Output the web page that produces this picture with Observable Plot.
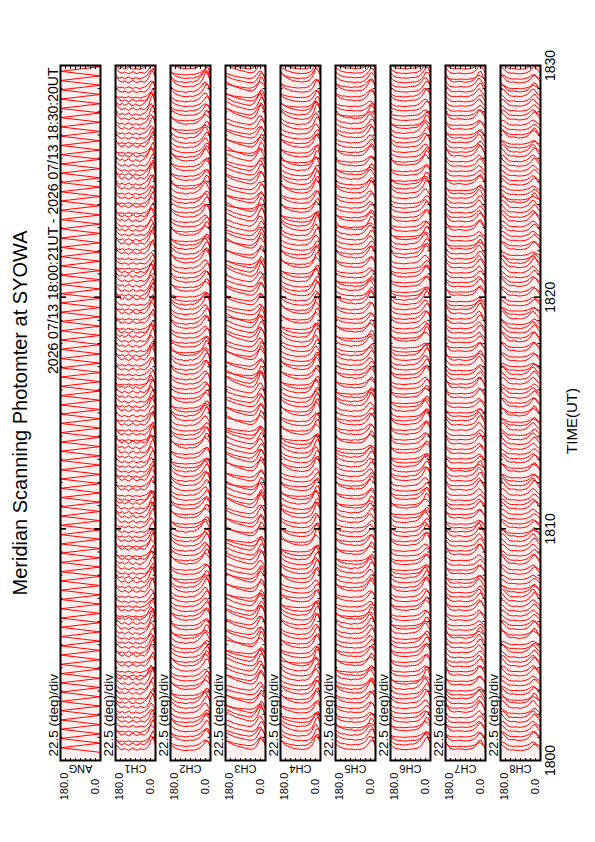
<!DOCTYPE html>
<html><head><meta charset="utf-8">
<script src="https://cdn.jsdelivr.net/npm/d3@7"></script>
<script src="https://cdn.jsdelivr.net/npm/@observablehq/plot@0.6"></script>
<style>
html,body{margin:0;padding:0;background:#fff;width:595px;height:842px;overflow:hidden}
#rot{position:absolute;left:0;top:0;width:842px;height:595px;transform-origin:0 0;transform:translate(0,842px) rotate(-90deg)}
</style></head><body><div id="rot"></div>
<script>
// ---------- data ----------
const channels = ["ANG","CH1","CH2","CH3","CH4","CH5","CH6","CH7","CH8"];
const titleText = "Meridian Scanning Photomter at SYOWA";
const rangeText = "2026 07/13 18:00:21UT - 2026 07/13 18:30:20UT";
const scaleText = "22.5 (deg)/div";
const axisTitle = "TIME(UT)";
const timeTickSec = [0, 600, 1200, 1800];          // seconds after 18:00 UT
const timeTickLabels = ["1800", "1810", "1820", "1830"];
const angleLabels = ["180.0", "0.0"];
const angleSteps = [180,170,160,150,140,130,120,110,100,90,80,70,60,50,40,30,20,10,0];
const angTurnDeg = [0, 180];
// scan turn-around times, seconds after 18:00:00 UT
const turnSec = [21,33,45,57,69,81,93,105,117,129,141,153,165,177,189,201,213,225,237,249,
261,273,285,297,309,321,333,345,357,369,381,393,405,417,429,441,453,465,477,489,
501,513,525,537,549,561,573,585,597,609,621,633,645,657,669,681,693,705,717,729,
741,753,765,777,789,801,813,825,837,849,861,873,885,897,909,921,933,945,957,969,
981,993,1005,1017,1029,1041,1053,1065,1077,1089,1101,1113,1125,1137,1149,1161,1173,1185,1197,1209,
1221,1233,1245,1257,1269,1281,1293,1305,1317,1329,1341,1353,1365,1377,1389,1401,1413,1425,1437,1449,
1461,1473,1485,1497,1509,1521,1533,1545,1557,1569,1581,1593,1605,1617,1629,1641,1653,1665,1677,1689,
1701,1713,1725,1737,1749,1761,1773,1785,1797,1809,1821];
// intensity profiles (arbitrary kR) along the meridian, 180 -> 0 deg in 10 deg steps
const profilesA = {
  CH1:[3.0,2.0,1.3,1.0,1.5,1.1,0.8,1.3,1.6,1.0,0.9,1.4,1.2,1.0,1.6,2.6,4.6,5.8,2.6],
  CH2:[3.4,2.6,1.9,1.5,1.2,1.0,0.9,0.8,0.9,1.0,0.9,1.1,1.4,1.8,2.5,3.6,5.0,4.8,2.2],
  CH3:[4.0,3.6,3.2,2.8,2.5,2.2,2.0,1.8,1.6,1.4,1.2,1.1,1.1,1.4,2.2,3.8,5.4,4.6,2.0],
  CH4:[3.8,3.0,2.4,2.0,1.7,1.4,1.2,1.1,1.0,0.9,0.9,1.0,1.1,1.4,2.0,3.2,5.2,5.6,3.2],
  CH5:[3.2,2.6,2.0,1.7,1.5,1.3,1.2,1.3,1.1,1.0,1.2,1.1,1.3,1.7,2.4,3.5,4.8,4.4,2.2],
  CH6:[2.9,2.0,1.5,1.2,1.1,1.0,1.0,0.9,1.0,1.1,1.2,1.2,1.4,1.8,2.5,3.6,5.0,4.8,2.8],
  CH7:[3.4,2.2,1.3,1.0,0.9,1.0,1.1,1.0,0.9,0.8,0.9,1.0,1.2,1.6,2.4,3.6,3.8,2.4,1.0],
  CH8:[3.6,3.0,2.2,1.4,1.1,1.0,1.1,0.9,0.8,0.8,0.9,1.0,1.3,1.8,2.6,3.6,3.2,2.0,1.1]
};
const profilesB = {
  CH1:[2.6,1.6,1.2,1.7,1.0,1.3,1.8,1.1,0.9,1.5,1.1,0.8,1.3,1.7,2.4,4.0,5.4,4.2,1.8],
  CH2:[3.0,2.3,1.6,1.3,1.1,1.2,0.9,0.8,1.0,1.2,1.0,1.3,1.7,2.3,3.2,4.4,4.6,3.2,1.6],
  CH3:[3.6,3.3,3.0,2.6,2.2,2.1,1.8,1.6,1.4,1.3,1.1,1.0,1.3,1.9,3.0,4.6,4.8,3.2,1.5],
  CH4:[3.4,2.7,2.1,1.8,1.5,1.3,1.2,1.0,0.9,1.0,1.1,1.0,1.3,1.8,2.8,4.4,5.4,4.2,2.2],
  CH5:[3.0,2.3,1.8,1.5,1.6,1.3,1.2,1.0,1.2,1.3,1.1,1.4,1.6,2.1,3.0,4.2,4.4,3.2,1.6],
  CH6:[2.6,1.8,1.3,1.1,1.2,1.0,0.9,1.0,1.1,1.3,1.2,1.4,1.7,2.3,3.2,4.4,4.6,3.4,2.0],
  CH7:[3.0,1.9,1.2,1.0,1.0,0.9,1.0,1.1,1.0,0.9,1.0,1.2,1.5,2.0,3.0,4.0,3.2,1.8,0.9],
  CH8:[3.0,3.4,2.8,1.8,1.2,1.0,0.9,1.0,0.9,0.8,1.0,1.2,1.6,2.2,3.2,3.4,2.4,1.6,1.0]
};
// per-scan code: digit = profile A, letter = profile B; value = brightness level
const traceCodes = {
  CH1:"56a7b45cd6e4f57g3a6b8c5d4e67fa5b3c6d7e45f6a8b5c4d67e5f3a6b7c4d5e6f8a5b6c47d5e6fa3b5c7d4e6f5a6b7c48d5e6f5a3b6c7d5e4f6a7b5c6d8e45f6a7b4c5d6e7f5a4b6c5d7e",
  CH2:"4b6c57d3e6f5a7b4c68d5e3f7a5b6c4d5e7f6a4b8c5d6e3f5a7b6c4d57e6f4a5b8c6d3e7f5a6b4c5d7e6f8a5b4c6d5e7f3a6b5c4d8e6f5a7b4c6d5e3f7a5b6c8d4e5f6a7b5c4d6e8f5a6b",
  CH3:"6c5d4e7f5a6b3c7d5e6f4a8b5c6d7e4f5a6b7c3d6e5f4a7b6c5d8e4f6a5b7c6d4e5f3a7b6c5d4e8f6a5b7c4d6e5f7a3b5c6d4e7f5a6b8c5d4e6f7a5b4c6d5e3f7a6b5c4d8e6f5a7b4c6d",
  CH4:"7d5e6f4a5b7c6d3e5f8a4b6c5d7e6f4a5b3c7d6e5f4a8b6c5d7e4f6a5b3c7d5e6f4a7b5c8d6e4f5a6b7c3d5e6f4a7b8c5d6e4f5a7b6c3d5e7f4a6b5c8d6e4f7a5b6c3d5e7f6a4b5c8d",
  CH5:"5e6f7a4b5c6d8e3f5a7b6c4d5e6f7a3b5c8d4e6f5a7b6c4d3e5f7a6b8c4d5e6f3a7b5c6d4e8f5a6b7c4d5e3f6a7b5c6d8e4f5a3b6c7d4e5f8a6b4c5d7e3f6a5b7c4d6e5f8a3b6c7d",
  CH6:"6f4a7b5c3d6e5f8a4b6c7d5e3f6a4b7c5d8e6f4a5b3c7d6e4f5a8b6c3d7e5f4a6b5c7d8e3f5a6b4c7d5e6f3a8b4c6d5e7f4a5b6c3d8e5f7a4b6c5d3e7f6a5b8c4d6e5f7a3b4c6d5e",
  CH7:"7a5b6c4d8e5f3a6b7c5d4e6f8a3b5c7d6e4f5a6b3c8d5e7f4a6b5c3d7e6f8a4b5c6d3e7f5a4b6c8d5e3f7a6b4c5d6e8f3a7b5c4d6e5f7a3b8c6d4e5f6a7b3c5d8e4f6a5b7c3d4e6f8a",
  CH8:"4b7c5d6e3f8a5b4c6d7e5f3a8b6c4d5e7f6a3b5c8d4e6f7a5b3c6d4e8f5a7b6c3d5e4f6a8b7c5d3e6f4a5b7c8d6e3f5a4b6c7d5e8f3a6b4c5d7e6f8a3b5c4d6e7f5a8b3c6d4e5f7a6b",
};
const deflectSecPerKR = 6.5;   // plotting gain: 1 kR -> seconds along the time axis

// ---------- table ----------
const rows = [];
for (const ch of channels.slice(1)) {
  const code = traceCodes[ch];
  for (let i = 0; i < turnSec.length - 1; i++) {
    const c = code[i] || "5";
    const isB = c >= "a";
    const level = isB ? c.charCodeAt(0) - 96 : +c;
    const amp = 0.4 + 0.13 * level;
    const prof = (isB ? profilesB : profilesA)[ch];
    angleSteps.forEach((a, j) => rows.push({ch, key: ch + "-" + i, angle: a,
      t: turnSec[i] + deflectSecPerKR * amp * prof[j]}));
  }
}
turnSec.forEach((t, k) => rows.push({ch: "ANG", key: "ANG", angle: angTurnDeg[k % 2], t}));

const minuteTicks = d3.range(60, 1800, 60).filter(s => s % 600 !== 0);
const majorTicks = [600, 1200];
const angleTicks = d3.range(22.5, 180, 22.5);
const frameW = 842 - 81 - 66, frameH = 40;
const font = "'Liberation Sans', Arial, Helvetica, sans-serif";

const chart = Plot.plot({
  width: 842, height: 595,
  marginLeft: 81, marginRight: 66, marginTop: 60, marginBottom: 55,
  x: {domain: [0, 1800], axis: null},
  y: {domain: [0, 180], axis: null},
  fy: {domain: channels, paddingInner: 15/55, paddingOuter: 0, axis: null},
  style: {fontFamily: font, background: "white", color: "black", overflow: "visible"},
  marks: [
    Plot.frame({fill: "#fff0f0", stroke: null}),
    Plot.line(rows, {x: "t", y: "angle", z: "key", fy: "ch", stroke: "#ff0000", strokeWidth: 1, clip: true}),
    // time ticks (top & bottom edges)
    Plot.ruleX(minuteTicks, {x: d => d, insetBottom: frameH - 2.5, stroke: "black", strokeWidth: 1}),
    Plot.ruleX(minuteTicks, {x: d => d, insetTop: frameH - 2.5, stroke: "black", strokeWidth: 1}),
    Plot.ruleX(majorTicks, {x: d => d, insetBottom: frameH - 6, stroke: "black", strokeWidth: 1.6}),
    Plot.ruleX(majorTicks, {x: d => d, insetTop: frameH - 6, stroke: "black", strokeWidth: 1.6}),
    // angle ticks (left & right edges)
    Plot.ruleY(angleTicks, {y: d => d, insetRight: frameW - 3, stroke: "black", strokeWidth: 1}),
    Plot.ruleY(angleTicks, {y: d => d, insetLeft: frameW - 3, stroke: "black", strokeWidth: 1}),
    Plot.frame({stroke: "black", strokeWidth: 2}),
    // labels
    Plot.text([scaleText], {text: d => d, frameAnchor: "top-left", dx: 4, dy: -3, textAnchor: "start", lineAnchor: "bottom", fontSize: 13.5, fill: "black"}),
    Plot.text([angleLabels[0]], {text: d => d, frameAnchor: "top-left", dx: -26, dy: 4, textAnchor: "middle", lineAnchor: "middle", fontSize: 11, fill: "black"}),
    Plot.text([angleLabels[1]], {text: d => d, frameAnchor: "bottom-left", dx: -26, dy: -5, textAnchor: "middle", lineAnchor: "middle", fontSize: 11, fill: "black"}),
    Plot.text(channels, {fy: d => d, text: d => d, frameAnchor: "left", dx: -8, rotate: -90, textAnchor: "middle", lineAnchor: "middle", fontSize: 11, fill: "black"}),
    Plot.text([rangeText], {fy: ["ANG"], text: d => d, frameAnchor: "top-right", dx: -2, dy: -3, textAnchor: "end", lineAnchor: "bottom", fontSize: 14, fill: "black"}),
    Plot.text([titleText], {fy: ["ANG"], text: d => d, frameAnchor: "top", dy: -40, lineAnchor: "middle", fontSize: 20, fill: "black"}),
    Plot.text(timeTickSec, {fy: timeTickSec.map(() => "CH8"), x: d => d, text: (d, i) => timeTickLabels[i], frameAnchor: "bottom", dy: 5, lineAnchor: "top", fontSize: 14, fill: "black"}),
    Plot.text([axisTitle], {fy: ["CH8"], text: d => d, frameAnchor: "bottom", dx: -8, dy: 26, lineAnchor: "top", fontSize: 15, fill: "black"})
  ]
});
document.getElementById("rot").appendChild(chart);
</script>
</body></html>
